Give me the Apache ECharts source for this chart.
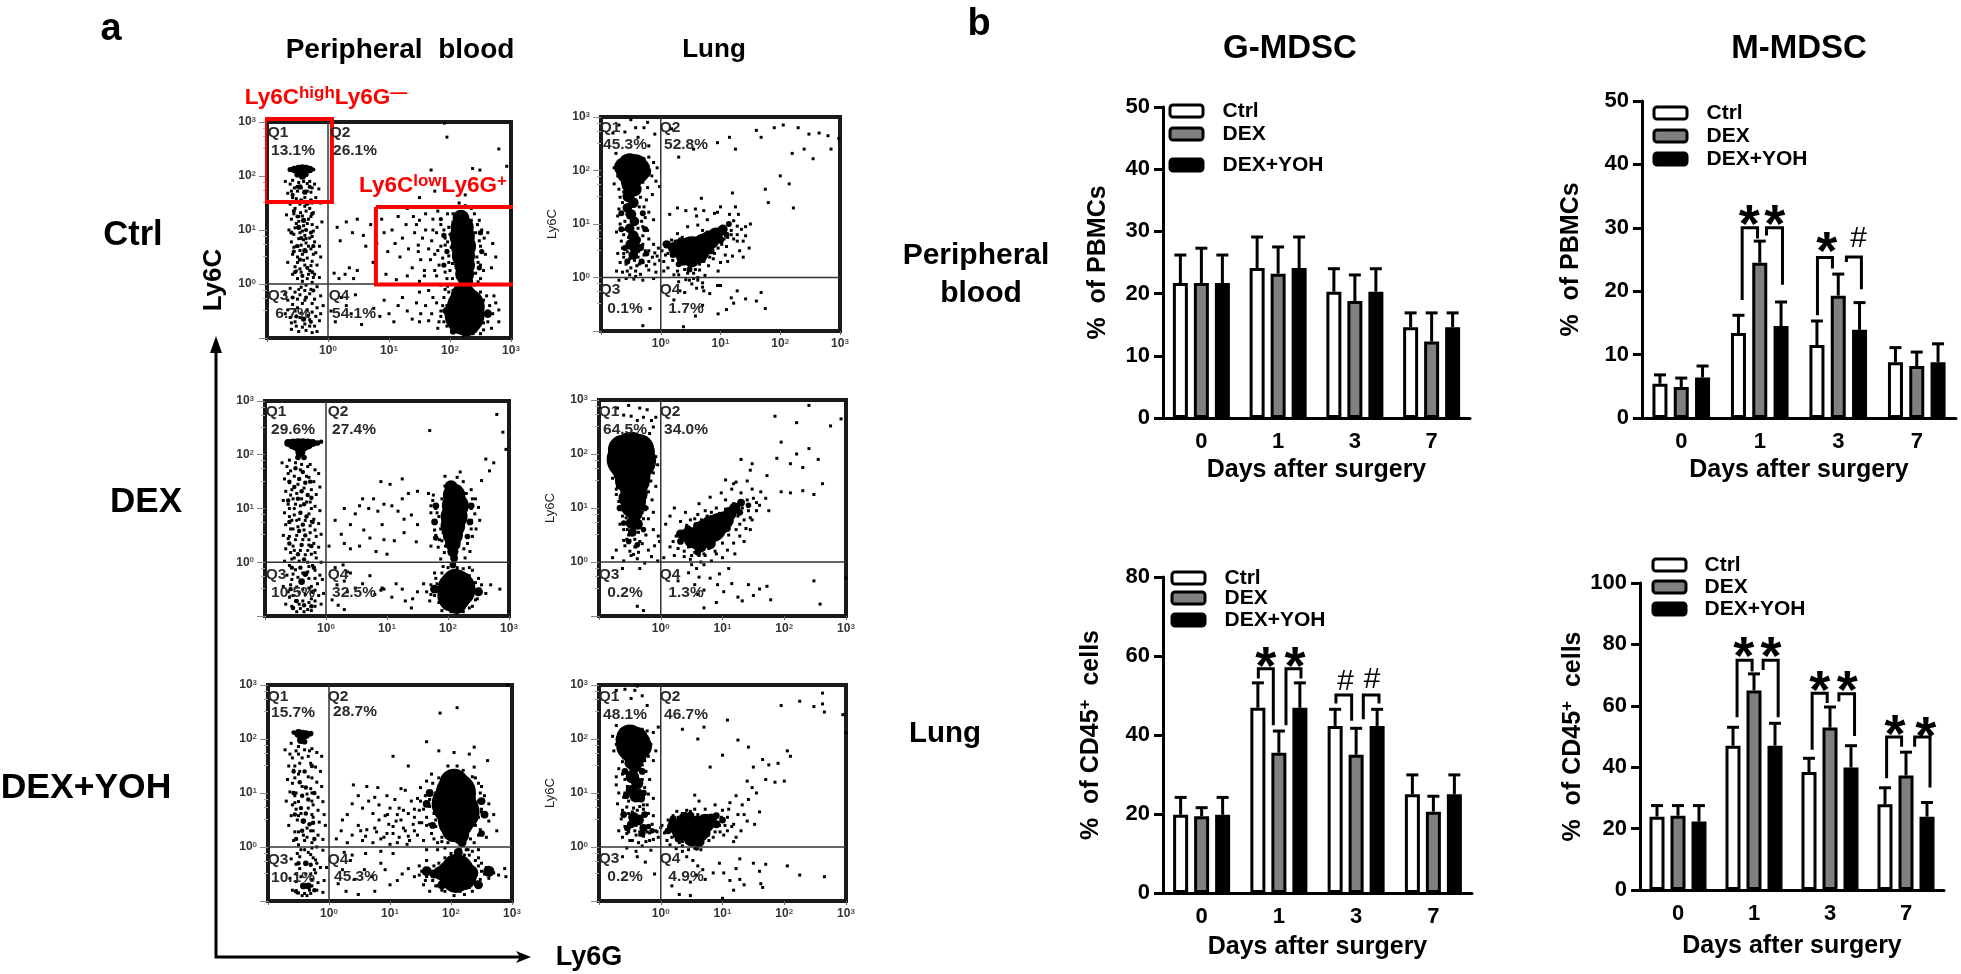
<!DOCTYPE html>
<html><head><meta charset="utf-8"><style>html,body{margin:0;background:#fff}#c{width:1961px;height:974px}</style>
<script src="https://cdn.jsdelivr.net/npm/echarts@6/dist/echarts.min.js"></script></head><body><div id="c"></div>
<script>
const FONT='"Liberation Sans"';
const days=['0','1','3','7'];
const groups=['Ctrl','DEX','DEX+YOH'];
// bar values and upper error-bar ends
const gPbmcCtrl=[21.7,24.1,20.3,14.6], gPbmcCtrlTop=[26.2,29.1,24,16.9];
const gPbmcDex=[21.7,23.2,18.8,12.3], gPbmcDexTop=[27.3,27.5,23,16.9];
const gPbmcYoh=[21.7,24.1,20.3,14.6], gPbmcYohTop=[26.2,29.1,24,16.9];
const mPbmcCtrl=[5.4,13.4,11.5,8.8], mPbmcCtrlTop=[6.8,16.2,15.3,11.1];
const mPbmcDex=[4.9,24.5,19.3,8.2], mPbmcDexTop=[6.3,27.9,22.7,10.4];
const mPbmcYoh=[6.4,14.5,13.9,8.8], mPbmcYohTop=[8.2,18.3,18.2,11.7];
const gCd45Ctrl=[19.8,46.9,42.3,25], gCd45CtrlTop=[24.2,53.2,46.5,29.9];
const gCd45Dex=[19.4,35.5,35,20.6], gCd45DexTop=[21.6,41,41.7,24.5];
const gCd45Yoh=[19.8,46.9,42.3,25], gCd45YohTop=[24.2,53.2,46.5,29.9];
const mCd45Ctrl=[23.9,47,38.4,27.9], mCd45CtrlTop=[27.5,53,42.9,33.3];
const mCd45Dex=[24.2,65,52.9,37.3], mCd45DexTop=[27.5,70.4,59.6,44.9];
const mCd45Yoh=[22.3,47,39.9,23.9], mCd45YohTop=[27.5,54.3,47,28.5];
// significance brackets, x in category index units
const mPbmcBrackets=[[[.776,18.6],[.776,30],[.972,30],[.972,28.3]],[[1.086,28.8],[1.086,30],[1.29,30],[1.29,21]],[[1.735,16.2],[1.735,25.3],[1.926,25.3],[1.926,23.6]],[[2.104,24.6],[2.104,25.4],[2.295,25.4],[2.295,20.3]]];
const mPbmcMarks=[[.866,32.2,'*'],[1.192,32.2,'*'],[1.854,27.9,'*'],[2.253,28.3,'#']];
const gCd45Brackets=[[[.734,54.3],[.734,56.8],[.928,56.8],[.928,42.5]],[[1.092,42.5],[1.092,56.8],[1.286,56.8],[1.286,54.3]],[[1.739,48],[1.739,50.1],[1.942,50.1],[1.942,43.6]],[[2.093,44],[2.093,50.1],[2.296,50.1],[2.296,48]]];
const gCd45Marks=[[.829,60,'*'],[1.208,60,'*'],[1.856,53.5,'#'],[2.201,53.9,'#']];
const mCd45Brackets=[[[.777,56.3],[.777,74.8],[.975,74.8],[.975,71.2]],[[1.12,71.7],[1.12,74.8],[1.318,74.8],[1.318,56.3]],[[1.765,45.7],[1.765,64.1],[1.963,64.1],[1.963,60.9]],[[2.117,61.4],[2.117,63.9],[2.323,63.9],[2.323,50.2]],[[2.745,36.4],[2.745,49.8],[2.942,49.8],[2.942,46.7]],[[3.114,46.7],[3.114,49.8],[3.316,49.8],[3.316,33.4]]];
const mCd45Marks=[[.865,79.6,'*'],[1.225,79.6,'*'],[1.866,68.5,'*'],[2.227,68.5,'*'],[2.855,54.1,'*'],[3.259,53.5,'*']];

// flow cytometry: read by eye, in hundredths of a decade [x,y,...]; core entries add a blob size
const pbCtrlCore=[-62,212,5,-55,212,7,-48,212,9,-42,212,10,-36,212,9,-30,212,7,-24,212,4,-50,203,6,-42,200,7,-36,203,5,-46,180,5,-38,170,5,-44,155,4,-34,150,5,-50,125,4,-40,118,5,-48,105,5,-36,100,4,-44,85,4,-50,70,4,-38,62,5,-46,45,4,-34,30,4,-42,15,4,-48,-10,3,-36,-25,4,-40,-65,5,218,122,16,220,105,22,220,88,24,222,70,24,222,52,22,224,35,20,224,18,18,226,4,14,222,-22,24,226,-42,36,224,-58,38,230,-55,28,216,-52,24,228,-75,22,
 -58,165,4,-28,155,4,-56,135,4,-26,130,4,-60,95,4,-28,95,4,-56,60,4,-24,70,4,-54,22,4,-26,22,4,-58,-25,4,-24,-12,4,-52,-60,4,-28,-70,4,-50,180,4,-30,180,4,190,90,5,195,60,5,190,35,5,250,95,5,252,60,5,248,30,5,185,120,4,195,-50,8,262,-55,8,240,-85,6,205,-88,6];
const pbCtrlDots=[-70,190,-62,185,-55,178,-30,190,-22,185,-15,176,-66,168,-58,160,-50,172,-28,170,-20,160,-12,150,-62,148,-54,140,-30,140,-24,132,-45,132,-68,128,-60,120,-52,112,-42,126,-32,120,-26,110,-18,105,-10,115,-64,100,-56,92,-46,95,-38,90,-30,85,-22,78,-14,70,-60,78,-52,70,-44,72,-36,76,-28,65,-20,58,-12,50,-58,55,-50,50,-42,55,-34,48,-26,42,-18,35,-66,40,-54,32,-46,28,-38,35,-30,25,-22,18,-14,12,-58,18,-50,10,-42,5,-34,10,-26,3,-18,-5,-62,-8,-54,-15,-46,-20,-38,-12,-30,-18,-22,-28,-12,-22,-66,-30,-58,-38,-50,-44,-42,-36,-34,-48,-26,-52,-18,-44,-8,-40,-70,-55,-62,-62,-54,-70,-46,-62,-38,-74,-30,-66,-22,-78,-14,-68,-60,-84,-48,-88,-36,-86,-26,-90,160,130,172,120,180,135,185,110,190,100,178,95,192,85,170,80,185,70,195,62,175,55,188,48,198,40,182,35,192,22,178,15,195,10,185,-2,205,130,240,130,248,118,252,100,256,85,250,70,258,55,246,40,255,25,250,10,262,95,270,75,275,50,268,30,150,118,140,125,130,140,215,150,225,145,200,142,235,140,210,-5,240,-2,250,-15,255,-30,265,-40,270,-55,262,-70,255,-85,238,-92,205,-85,190,-70,185,-50,178,-35,190,-25,198,-15,195,-40,200,-60,275,-35,280,-70,170,-55,160,-40,165,-68,15,105,20,80,30,115,40,95,48,120,58,90,62,70,70,110,74,40,80,75,88,120,92,95,98,60,105,100,110,75,115,125,118,50,122,85,128,110,132,65,138,30,142,95,148,72,152,45,158,15,10,20,18,10,28,18,35,30,42,10,48,25,78,12,95,18,112,8,130,15,150,5,5,-50,12,-70,22,-25,30,-40,38,-55,45,-20,55,-75,75,-45,85,-60,92,-30,100,-55,108,-70,115,-40,122,-25,130,-50,138,-65,145,-35,152,-55,191,298,195,272,280,250,293,218,169,211,237,214,249,211,150,160,175,172,225,165,
 -58,192,-48,188,-40,190,-34,186,-26,178,-60,172,-44,178,-34,172,-38,160,-52,158,-26,150,-46,148,-38,144,-56,130,-36,135,-28,125,-48,125,-40,108,-48,116,-34,112,-24,98,-54,104,-42,98,-36,84,-48,84,-26,88,-56,68,-40,82,-32,70,-46,62,-24,55,-36,60,-50,40,-40,44,-28,34,-44,22,-32,18,-52,24,-24,12,-36,-2,-44,-6,-28,-10,-50,-28,-38,-30,-26,-36,-44,-54,-32,-58,-54,-50,-20,-60,-42,-80,-30,-78,-52,-78,-60,-72,-18,-88,-66,-48,-12,-55,-70,-18,196,130,205,115,198,105,200,92,196,78,202,68,192,72,198,52,204,38,200,25,204,10,196,-4,245,110,242,95,248,80,240,68,244,50,250,35,242,20,246,4,235,118,232,100,172,100,165,65,180,62,175,25,160,100,155,85,148,60,168,45,145,110,158,25,205,-12,215,-8,232,-8,260,-22,272,-22,280,-48,268,-82,250,-92,222,-96,195,-78,180,-82,172,-25,165,-12,150,-15,150,-70,262,-50,255,-72,190,-50,185,-60,188,-40,182,-70,192,-10];
const pbDexCore=[-62,222,7,-54,220,10,-46,218,12,-38,218,12,-30,220,10,-22,222,7,-14,222,5,-8,224,4,-42,205,9,-46,195,5,-36,195,5,-50,175,4,-38,168,4,-44,155,4,-34,148,4,-52,140,4,-40,132,4,-30,125,4,-46,118,4,-36,108,4,-52,100,3,-42,92,4,-32,85,4,-48,78,3,-38,70,4,-44,58,4,-34,50,4,-50,42,3,-40,32,4,-30,22,3,-46,15,4,-36,5,4,-42,-10,4,-34,-22,5,-40,-36,6,-28,-30,3,-48,-72,4,-36,-80,4,205,140,12,210,125,20,212,105,24,210,85,24,208,68,22,208,50,18,208,35,14,208,20,10,210,8,7,208,-5,6,212,-35,22,214,-50,34,210,-62,30,202,-48,18,222,-52,20,214,-78,18,
 -60,150,4,-26,150,4,-62,115,4,-24,120,4,-60,75,4,-22,75,4,-60,35,4,-24,30,4,-56,-10,4,-20,-10,4,-58,-50,4,-22,-55,4,-54,-85,4,-24,-82,4,180,105,6,178,75,6,238,105,6,236,75,6,180,45,5,232,48,5,178,-50,8,250,-55,8,225,-80,6,195,-75,6];
const pbDexDots=[-72,185,-64,178,-58,170,-26,182,-18,172,-12,165,-68,155,-60,148,-28,158,-20,150,-10,140,-66,132,-58,125,-24,135,-16,126,-70,115,-62,108,-54,118,-26,112,-18,104,-10,96,-68,92,-60,85,-52,88,-28,90,-20,80,-12,72,-66,70,-58,62,-26,68,-18,60,-8,52,-70,50,-62,44,-54,30,-28,42,-20,35,-12,28,-66,25,-58,18,-52,8,-24,15,-16,8,-8,0,-68,2,-60,-6,-50,-14,-28,-8,-18,-15,-10,-24,-64,-24,-56,-32,-24,-45,-14,-40,-6,-32,-70,-45,-62,-55,-54,-62,-44,-56,-34,-60,-24,-68,-12,-62,-4,-58,-66,-78,-56,-82,-42,-86,-30,-88,-18,-82,-8,-78,168,128,175,115,180,100,172,92,185,85,178,72,188,62,180,50,190,40,184,28,194,18,188,6,238,135,245,118,250,102,244,90,252,78,246,62,240,48,232,35,236,20,228,8,195,142,225,150,215,158,200,-10,225,-12,190,-20,180,-30,172,-42,165,-55,178,-62,185,-75,195,-85,170,-72,160,-40,150,-55,142,-68,235,-25,245,-38,252,-50,262,-58,248,-68,240,-82,225,-92,205,-92,190,-90,270,-42,285,-50,90,-52,95,-50,92,-48,40,-20,30,-35,18,-42,35,-55,48,-48,60,-40,72,-25,80,-60,108,-65,115,-40,125,-50,130,-72,140,-85,20,-80,30,-88,10,-70,15,-10,28,-5,35,-18,40,25,30,35,55,30,62,60,72,45,82,20,92,70,100,15,48,90,55,105,60,118,70,100,78,118,85,95,95,108,108,105,118,95,128,80,140,88,150,70,128,55,148,38,112,40,95,42,125,118,135,128,5,30,25,52,15,78,30,100,40,70,90,150,105,145,125,155,150,132,280,275,290,242,295,210,268,170,275,185,262,192,195,160,170,245,255,152,220,168,
 -60,190,-50,185,-40,182,-30,178,-62,165,-52,160,-42,172,-32,160,-46,145,-36,138,-56,135,-48,128,-40,118,-32,112,-60,100,-50,108,-42,105,-24,100,-56,78,-44,80,-34,78,-24,76,-54,62,-46,66,-36,60,-26,55,-16,48,-60,48,-48,50,-38,42,-28,32,-52,22,-42,22,-34,14,-18,18,-56,6,-44,2,-30,0,-22,-6,-54,-22,-46,-28,-38,-20,-30,-18,-18,-30,-58,-42,-48,-46,-38,-50,-28,-48,-18,-52,-60,-65,-50,-72,-44,-78,-38,-72,-28,-75,-18,-72,-48,-92,-36,-92,-24,-90,176,125,172,105,190,118,182,92,192,75,178,60,192,55,186,42,172,30,196,30,240,118,238,100,238,78,238,62,230,48,226,25,196,130,230,128,192,-8,215,-10,235,-10,178,-20,175,-50,182,-40,172,-60,235,-85,245,-70,250,-30,255,-42,190,-60,195,-75,185,-55,240,-15];
const pbYohCore=[-58,212,4,-50,210,8,-44,208,9,-38,208,8,-30,210,5,-46,198,7,-40,195,5,-48,155,3,-40,140,4,-48,120,4,-38,110,4,-44,95,4,-34,88,4,-46,72,4,-38,62,4,-42,48,5,-32,42,4,-44,30,4,-36,18,3,-40,-5,3,-38,-30,5,-30,-33,4,-42,-72,6,-34,-72,6,196,125,14,205,118,26,208,100,36,205,80,40,212,65,38,208,48,32,205,32,22,215,22,16,218,8,8,212,-10,8,205,-30,16,210,-45,30,195,-48,20,208,-58,26,220,-55,24,182,-48,12,232,-48,14,172,-50,8,
 -58,140,4,-28,150,4,-58,100,4,-24,100,4,-56,60,4,-26,45,4,-54,15,4,-24,15,4,-50,-30,4,-20,-30,3,-54,-82,4,-24,-80,4,165,100,7,160,80,7,250,85,7,255,60,7,170,40,6,250,25,6,160,-45,9,262,-45,10,245,-70,8,185,-70,8];
const pbYohDots=[-72,180,-64,172,-54,178,-28,182,-20,175,-12,168,-66,150,-58,142,-30,155,-22,148,-14,140,-68,125,-60,118,-28,128,-20,120,-12,112,-64,102,-56,95,-28,100,-18,92,-10,84,-70,85,-60,78,-54,70,-26,78,-18,68,-8,60,-62,58,-52,50,-26,55,-16,46,-6,40,-66,40,-56,28,-26,30,-18,22,-10,14,-58,12,-50,4,-28,8,-20,0,-10,-6,-48,-18,-30,-14,-22,-24,-62,-22,-54,-32,-48,-40,-24,-42,-14,-38,-4,-38,-64,-58,-54,-64,-28,-60,-18,-66,-8,-62,-60,-80,-50,-85,-30,-86,-20,-80,-10,-84,150,110,160,122,168,135,175,100,165,88,178,78,172,62,182,50,175,38,168,25,185,18,178,8,190,-2,160,-5,240,128,250,112,255,95,262,80,250,65,262,48,248,32,258,18,238,8,245,-5,235,-8,270,60,275,30,195,150,220,142,238,148,210,150,130,-40,140,-55,148,-35,155,-70,160,-25,165,-82,178,-72,180,-30,190,-20,190,-82,205,-90,222,-88,235,-82,245,-72,250,-30,258,-38,262,-58,270,-48,278,-52,288,-40,290,-55,245,-20,230,-15,225,-5,120,-50,112,-62,100,-70,92,-42,85,-30,70,-55,58,-42,42,-60,35,-25,22,-42,15,-68,28,-82,48,-88,75,-82,25,-10,38,-15,60,-12,85,-8,105,-12,12,15,20,30,30,8,38,22,48,40,55,12,62,32,72,8,78,28,82,50,90,18,98,42,105,25,112,8,118,50,125,30,132,12,138,42,145,22,122,68,112,60,100,72,92,58,82,78,72,62,65,85,55,72,48,95,38,80,30,60,22,50,95,95,108,88,125,105,135,85,148,68,152,45,118,108,80,110,62,112,40,115,160,40,155,12,100,5,290,330,293,300,210,258,182,248,160,195,130,150,180,178,238,185,105,168,205,175,230,172,260,160,
 -62,192,-50,186,-40,180,-32,178,-60,165,-50,172,-44,165,-34,168,-56,150,-48,140,-34,130,-56,128,-50,135,-44,112,-30,108,-54,100,-36,98,-50,84,-28,85,-56,82,-46,62,-34,72,-28,60,-50,58,-36,35,-50,28,-42,22,-30,30,-28,-2,-40,12,-34,-10,-52,-12,-46,-5,-26,-20,-54,-50,-46,-55,-38,-50,-30,-50,-22,-48,-52,-85,-40,-86,-44,-90,-36,-90,-32,-80,-28,-72,170,118,180,128,185,110,172,85,165,75,182,60,175,50,185,35,172,15,190,25,195,8,235,130,245,118,248,100,245,85,250,70,245,55,240,40,245,22,232,15,228,-5,185,10,178,-5,200,-12,222,-15,215,-5,158,95,150,85,155,70,145,90,140,70,160,55,148,45,165,42,152,-45,148,-52,160,-55,158,-62,165,-42,170,-62,172,-35,175,-72,178,-55,185,-80,195,-72,205,-78,215,-82,230,-75,240,-65,248,-60,250,-45,255,-50,245,-35,240,-25,95,25,85,15,75,35,60,20,52,30,105,38,115,18,122,35,130,20,140,30,128,5,110,48,96,60,130,62,140,55,115,72,75,92];
const luCtrlCore=[-62,206,16,-52,210,20,-42,208,20,-34,204,16,-58,195,16,-48,192,22,-38,196,18,-28,198,12,-50,175,16,-44,165,12,-54,152,10,-46,140,9,-56,130,8,-50,118,9,-44,105,8,-52,92,8,-46,78,9,-40,70,7,-50,62,9,-42,55,10,-34,56,6,-46,42,8,10,62,7,22,55,10,34,55,16,44,52,20,52,50,24,62,50,20,72,62,18,82,70,16,92,80,12,104,90,8,114,100,5,122,106,3,40,38,14,52,32,12,66,38,10,
 -66,120,5,-30,120,5,-66,90,5,-26,90,5,-60,55,5,-24,45,5,-56,30,5,-32,30,5,20,42,5,30,65,6,45,68,6,60,70,6,70,35,6,84,50,6,100,70,6,30,25,5,48,15,5,110,80,5];
const luCtrlDots=[-80,270,-70,285,-60,272,-50,295,-42,280,-38,262,-28,280,-22,290,-10,268,-20,246,-75,232,-70,218,-78,205,-20,225,-12,215,-6,205,-15,190,-8,180,-2,170,-78,175,-70,165,-68,150,-22,168,-14,155,-24,145,-70,128,-72,115,-28,132,-20,122,-12,108,-26,112,-68,100,-74,85,-30,95,-22,88,-62,80,-66,68,-30,78,-20,72,-12,62,-64,55,-72,45,-62,38,-28,42,-20,50,-10,46,-4,55,-68,28,-58,25,-50,18,-40,22,-30,28,-20,30,-10,25,-2,32,-74,12,-64,10,-52,5,-42,12,-34,6,-20,14,-8,10,-70,-5,-58,-2,-45,-3,-30,-5,-12,-2,5,30,12,18,20,32,28,12,36,25,30,5,45,8,55,-2,65,14,74,4,80,22,88,35,96,12,100,28,108,42,5,12,12,45,18,70,28,82,36,75,45,95,52,72,62,98,70,88,78,108,88,62,98,92,106,72,118,80,128,68,132,50,120,40,112,30,128,96,142,78,148,55,138,38,15,118,28,130,42,125,58,128,60,115,72,125,90,120,100,132,115,118,125,132,130,118,150,100,100,-15,72,-25,82,-30,60,-20,40,-28,118,-38,122,-48,128,-25,168,-28,175,-58,110,-60,96,-68,58,-72,38,-92,70,-18,-18,-58,-30,-90,70,-52,95,-15,142,-40,160,-44,32,-25,22,-42,95,252,115,262,168,262,160,275,190,280,205,285,230,280,248,268,265,270,280,265,298,260,220,232,240,240,255,222,285,240,125,240,55,240,18,278,30,225,200,190,215,175,222,130,180,140,175,165,120,158,95,122,68,148,
 -72,190,-60,225,-50,228,-40,226,-28,222,-64,178,-30,178,-36,168,-62,160,-34,150,-64,140,-56,118,-36,132,-60,105,-32,105,-38,92,-60,90,-54,75,-30,62,-62,45,-56,48,-38,38,-26,50,-52,35,-44,32,-36,25,-56,12,-42,2,-24,22,-14,38,-6,40,2,50,8,42,14,60,18,42,24,68,26,40,32,72,30,28,38,68,42,70,40,15,50,68,48,18,58,70,58,15,65,25,68,72,72,30,76,40,78,85,82,38,84,55,90,45,92,68,96,55,98,75,102,62,105,82,110,58,112,75,118,88,122,72,128,80,135,90,138,68,142,95,55,8,62,0,48,-5,42,-4,30,-8,22,5,62,-5,70,-10,52,-12];
const luDexCore=[-62,208,26,-48,210,30,-36,208,28,-26,205,18,-68,195,16,-55,190,36,-42,188,38,-30,188,22,-50,168,30,-42,160,28,-56,150,20,-34,148,18,-46,135,22,-52,118,18,-42,112,20,-34,125,14,-50,98,14,-42,90,14,-48,72,10,-38,70,10,-46,55,8,32,52,8,42,50,12,52,42,16,62,45,22,74,55,24,84,62,24,94,70,20,104,78,16,112,90,12,120,100,10,130,110,7,64,30,12,80,34,10,
 -66,100,6,-26,100,6,-60,72,5,-28,60,5,-52,38,5,-38,32,5,32,38,6,44,62,6,58,68,6,78,38,7,92,50,7,108,62,6,128,92,6,142,105,5,60,18,6];
const luDexDots=[-70,285,-60,272,-52,290,-48,270,-38,262,-34,285,-28,268,-22,282,-8,268,-12,250,-18,238,-82,200,-78,185,-75,170,-78,155,-70,140,-72,125,-68,112,-66,98,-62,85,-66,70,-60,60,-55,42,-8,195,-5,180,-12,165,-16,150,-8,140,-20,130,-14,115,-22,100,-12,92,-20,80,-28,62,-24,50,-12,60,-4,48,-58,30,-50,20,-40,28,-30,34,-20,22,-10,30,-2,38,-72,22,-78,8,-60,2,-48,12,-38,6,-26,-2,-15,10,-5,2,-62,-12,-34,-12,5,8,15,28,22,12,30,40,38,20,48,5,55,18,65,0,72,12,82,2,90,15,100,8,108,22,118,35,128,48,138,62,148,78,8,70,15,85,22,100,32,75,40,92,48,62,55,80,62,108,72,95,80,120,90,100,98,128,105,115,115,135,122,148,130,128,140,150,148,135,155,110,162,130,170,118,175,95,145,60,135,38,120,15,110,-12,95,-22,80,-30,62,-28,45,-20,28,-35,92,-42,102,-55,115,-40,125,-65,142,-42,150,-62,160,-50,172,-45,178,-70,132,-72,90,-75,70,-85,55,-42,70,-52,60,-60,248,-35,258,-78,300,-30,188,192,195,222,210,182,220,200,230,175,240,210,255,190,210,128,230,132,248,125,262,145,195,130,172,160,145,170,118,145,105,152,148,182,130,190,185,270,220,258,240,290,275,252,292,265,-38,-82,-15,262,-28,-90,
 -78,215,-70,225,-60,230,-48,232,-36,230,-24,226,-16,218,-72,178,-66,162,-72,135,-60,118,-28,170,-22,160,-24,135,-26,118,-60,95,-56,82,-30,92,-28,80,-36,55,-54,60,-60,40,-50,40,-42,42,-34,38,-42,28,-52,50,-44,14,-36,18,20,38,25,48,28,25,32,38,36,55,38,10,42,68,45,28,48,78,50,12,55,65,58,28,60,88,62,12,66,78,70,15,72,30,75,85,78,25,82,92,85,38,88,20,92,45,95,90,100,35,102,62,105,98,110,50,112,72,118,108,122,60,125,85,128,70,132,100,135,78,140,115,142,95,145,82,150,118,155,95,160,105,50,-5,58,-12,70,-5];
const luYohCore=[-58,198,14,-50,202,20,-40,200,18,-30,196,12,-46,188,24,-34,186,18,-42,172,18,-50,155,8,-42,150,10,-46,130,10,-38,118,9,-48,105,8,-40,95,10,-32,90,6,-44,55,8,-36,50,8,-28,35,6,-48,42,6,-20,38,4,20,38,9,32,32,14,42,36,20,52,32,20,62,26,14,72,44,14,82,52,8,90,58,5,50,16,12,62,10,8,
 -58,140,5,-30,140,5,-56,95,5,-28,100,5,-60,60,5,-26,60,5,-54,35,5,-30,25,5,-14,30,4,12,30,5,20,52,5,36,55,6,48,58,6,62,50,6,74,25,6,90,42,6,100,50,5,28,15,5,45,12,6,58,-2,4];
const luYohDots=[-72,290,-58,292,-48,275,-42,290,-30,280,-38,298,-22,262,-72,225,-62,218,-48,216,-30,218,-22,215,-12,212,-4,222,-78,205,-72,190,-76,178,-16,190,-8,178,-20,168,-12,160,-68,145,-72,130,-62,135,-24,140,-18,125,-26,110,-72,115,-68,100,-60,92,-20,98,-12,90,-22,78,-70,80,-62,68,-55,74,-28,70,-20,62,-12,58,-64,52,-58,38,-55,25,-40,22,-28,20,-18,26,-8,30,0,36,-68,30,-62,18,-50,12,-36,8,-24,10,-12,14,-4,18,-55,-2,-40,-8,-30,2,-16,-6,-62,-18,-38,-18,8,28,10,12,15,48,22,20,28,55,35,10,40,62,48,50,58,55,65,45,70,20,78,12,88,28,95,40,102,22,108,55,115,38,122,18,100,68,88,78,72,70,62,85,55,96,112,82,122,95,132,78,142,88,148,110,155,100,160,65,152,42,140,48,130,30,118,10,35,-8,42,-18,52,-25,60,-35,68,-42,58,-52,48,-65,72,-60,85,-48,95,-30,102,-48,112,-62,122,-40,128,-22,128,-60,135,-70,150,-30,160,-45,165,-75,30,-88,48,-90,18,-72,100,-95,118,-80,-10,-50,-25,-28,162,-68,170,-32,205,-35,225,-52,265,-55,140,122,150,148,165,162,175,152,190,155,205,178,210,168,170,125,185,120,200,122,80,148,100,170,60,200,125,198,142,185,70,222,108,235,35,218,195,262,225,270,248,260,262,285,262,265,265,250,295,245,302,250,300,212,
 -66,180,-60,165,-28,175,-26,160,-62,158,-30,152,-58,125,-54,112,-30,125,-34,105,-58,100,-52,85,-34,75,-28,78,-44,72,-38,68,-52,62,-46,65,-30,58,-52,28,-42,30,-34,28,-22,28,-14,42,-6,28,-46,12,-34,22,-18,12,-40,40,2,40,6,26,12,50,14,32,18,18,20,58,25,25,26,66,30,8,35,62,38,20,42,68,45,8,48,66,52,8,55,70,58,18,60,60,65,30,68,8,72,28,76,58,78,30,80,42,85,48,85,18,90,40,96,28,98,55,104,40,108,30,110,70,118,42,125,60,135,60,15,4,25,-3,35,2,45,-5,55,-2,65,-5];

const pairs=(a)=>{const o=[];for(let i=0;i<a.length;i+=2)o.push([10**(a[i]/100),10**(a[i+1]/100)]);return o};
const triples=(a,s)=>{const o=[];for(let i=0;i<a.length;i+=3)o.push([10**(a[i]/100),10**(a[i+1]/100),a[i+2]*s]);return o};

// Gates (raw axis values)
const gateHigh=[[.093,1140],[1.16,1140],[1.16,33],[.093,33],[.093,1140]];
const gateLow=[[6.1,26.8],[1200,26.8],[1200,.98],[6.1,.98],[6.1,26.8]];

const barCharts=[
 {left:1163,top:107,width:307,height:311,max:50,interval:10,name:'%  of PBMCs',nameGap:52,spacing:21,xGap:40,
  vals:[gPbmcCtrl,gPbmcDex,gPbmcYoh],tops:[gPbmcCtrlTop,gPbmcDexTop,gPbmcYohTop],brackets:[],marks:[],
  legX:1168.5,legText:1221,legY:[111,134,165]},
 {left:1642,top:101,width:314,height:317,max:50,interval:10,name:'%  of PBMCs',nameGap:58,spacing:21.3,xGap:40,
  vals:[mPbmcCtrl,mPbmcDex,mPbmcYoh],tops:[mPbmcCtrlTop,mPbmcDexTop,mPbmcYohTop],brackets:mPbmcBrackets,marks:mPbmcMarks,
  legX:1652.5,legText:1705,legY:[113,136,159]},
 {left:1163,top:577,width:309,height:316,max:80,interval:20,name:'%  of CD45{s|+}  cells',nameGap:58,spacing:21,xGap:42,
  vals:[gCd45Ctrl,gCd45Dex,gCd45Yoh],tops:[gCd45CtrlTop,gCd45DexTop,gCd45YohTop],brackets:gCd45Brackets,marks:gCd45Marks,
  legX:1170.5,legText:1223,legY:[578,598,620]},
 {left:1640,top:583,width:304,height:307,max:100,interval:20,name:'%  of CD45{s|+}  cells',nameGap:53,spacing:21,xGap:44,
  vals:[mCd45Ctrl,mCd45Dex,mCd45Yoh],tops:[mCd45CtrlTop,mCd45DexTop,mCd45YohTop],brackets:mCd45Brackets,marks:mCd45Marks,
  legX:1651.5,legText:1703,legY:[565,587,609]}
];
const flowPanels=[
 {l:267,r:511,t:122,b:338,dots:pbCtrlDots,core:pbCtrlCore,gates:true,s:1.05},
 {l:601,r:840,t:117,b:331,dots:luCtrlDots,core:luCtrlCore,label:true,s:1.2},
 {l:265,r:509,t:401,b:616,dots:pbDexDots,core:pbDexCore,s:1.12},
 {l:599,r:846,t:400,b:616,dots:luDexDots,core:luDexCore,label:true,s:1.12},
 {l:268,r:512,t:685,b:901,dots:pbYohDots,core:pbYohCore,s:1.12},
 {l:599,r:846,t:685,b:901,dots:luYohDots,core:luYohCore,label:true,s:1.35}
];
const quadText=[
 [278,133,'Q1'],[293,151,'13.1%'],[340,133,'Q2'],[355,151,'26.1%'],[278,296,'Q3'],[293,314,'6.7%'],[339,296,'Q4'],[354,314,'54.1%'],
 [610,128,'Q1'],[625,145,'45.3%'],[670,128,'Q2'],[686,145,'52.8%'],[610,290,'Q3'],[625,309,'0.1%'],[670,290,'Q4'],[686,309,'1.7%'],
 [276,412,'Q1'],[293,430,'29.6%'],[338,412,'Q2'],[354,430,'27.4%'],[276,575,'Q3'],[293,593,'10.5%'],[338,575,'Q4'],[354,593,'32.5%'],
 [609,412,'Q1'],[625,430,'64.5%'],[670,412,'Q2'],[686,430,'34.0%'],[609,575,'Q3'],[625,593,'0.2%'],[670,575,'Q4'],[686,593,'1.3%'],
 [278,697,'Q1'],[293,713,'15.7%'],[338,697,'Q2'],[355,712,'28.7%'],[278,860,'Q3'],[293,878,'10.1%'],[338,860,'Q4'],[356,877,'45.3%'],
 [609,697,'Q1'],[625,715,'48.1%'],[670,697,'Q2'],[686,715,'46.7%'],[609,859,'Q3'],[625,877,'0.2%'],[670,859,'Q4'],[686,877,'4.9%']
];
const bigText=[
 [111,30,'a',38],[979,25,'b',38],[400,50,'Peripheral  blood',28],[714,50,'Lung',26],
 [133,235,'Ctrl',34.5],[146,502,'DEX',35],[86,788,'DEX+YOH',35.5],
 [976,256,'Peripheral',30],[981,294,'blood',30],[945,734,'Lung',29.5],[589,958,'Ly6G',27],
 [1290,49,'G-MDSC',33],[1799,49,'M-MDSC',33]
];
const FILL=['#fff','#808080','#000'];
const grid=[],xAxis=[],yAxis=[],series=[],legend=[],graphic=[];

barCharts.forEach((c,i)=>{
 grid.push({left:c.left,top:c.top,width:c.width,height:c.height});
 xAxis.push({type:'category',gridIndex:i,data:days,name:'Days after surgery',nameLocation:'middle',nameGap:c.xGap,
  nameTextStyle:{fontFamily:FONT,fontWeight:'bold',fontSize:25,color:'#000'},
  axisLine:{lineStyle:{color:'#000',width:3}},axisTick:{alignWithLabel:true,length:9,lineStyle:{color:'#000',width:3}},
  axisLabel:{fontFamily:FONT,fontWeight:'bold',fontSize:22,color:'#000',margin:13},splitLine:{show:false}});
 xAxis.push({type:'value',gridIndex:i,min:-.5,max:3.5,show:false});
 yAxis.push({type:'value',gridIndex:i,min:0,max:c.max,interval:c.interval,name:c.name,nameLocation:'middle',nameGap:c.nameGap,
  nameTextStyle:{fontFamily:FONT,fontWeight:'bold',fontSize:25,color:'#000',rich:{s:{fontFamily:FONT,fontWeight:'bold',fontSize:17,color:'#000',verticalAlign:'top',lineHeight:28}}},
  axisLine:{show:true,onZero:false,lineStyle:{color:'#000',width:3}},axisTick:{show:true,length:9,lineStyle:{color:'#000',width:3}},
  axisLabel:{fontFamily:FONT,fontWeight:'bold',fontSize:22,color:'#000',margin:13},splitLine:{show:false}});
 groups.forEach((g,k)=>{
  series.push({type:'bar',name:g,xAxisIndex:i*2,yAxisIndex:i,data:c.vals[k],barWidth:15,barGap:((c.spacing-15)/15*100)+'%',z:3,
   itemStyle:{color:FILL[k],borderColor:'#000',borderWidth:3}});
  const off=(k-1)*c.spacing;
  series.push({type:'custom',name:'err'+k,xAxisIndex:i*2,yAxisIndex:i,clip:false,z:2,
   data:days.map((d,n)=>[n,c.tops[k][n],c.vals[k][n]]),encode:{x:0,y:[1,2]},
   renderItem:(p,api)=>{const a=api.coord([api.value(0),api.value(2)]),b=api.coord([api.value(0),api.value(1)]);const x=a[0]+off;
    const st={stroke:'#000',lineWidth:3,fill:null};
    return {type:'group',children:[{type:'line',shape:{x1:x,y1:a[1],x2:x,y2:b[1]},style:st},{type:'line',shape:{x1:x-6,y1:b[1],x2:x+6,y2:b[1]},style:st}]}}});
  legend.push({data:[g],left:c.legX,top:c.legY[k]-12,padding:0,icon:'roundRect',itemWidth:33,itemHeight:12,selectedMode:false,
   itemStyle:{color:FILL[k],borderColor:'#000',borderWidth:3},
   textStyle:{fontFamily:FONT,fontWeight:'bold',fontSize:21,color:'#000',lineHeight:24,padding:[0,0,0,c.legText-c.legX-38]}});
 });
 c.brackets.forEach(b=>series.push({type:'line',xAxisIndex:i*2+1,yAxisIndex:i,data:b,symbol:'none',clip:false,z:5,silent:true,
  lineStyle:{color:'#000',width:3,join:'miter'}}));
 if(c.marks.length)series.push({type:'scatter',xAxisIndex:i*2+1,yAxisIndex:i,symbolSize:1,clip:false,z:6,silent:true,
  itemStyle:{color:'transparent',opacity:1},
  data:c.marks.map(m=>({value:[m[0],m[1]],label:m[2]==='#'
    ?{formatter:'#',fontSize:30,fontStyle:'italic',fontWeight:'normal',offset:[0,0]}
    :{formatter:'*',fontSize:54,fontWeight:'bold',offset:[0,13]}})),
  label:{show:true,position:'inside',color:'#000',fontFamily:FONT}});
});

const n0=barCharts.length;
flowPanels.forEach((f,j)=>{
 const g=n0+j,xi=n0*2+j,yi=n0+j;
 grid.push({left:f.l,top:f.t,width:f.r-f.l,height:f.b-f.t,show:true,borderColor:'#1a1a1a',borderWidth:4,backgroundColor:'transparent'});
 const lab={fontFamily:FONT,fontSize:12,color:'#333',fontWeight:'bold',
  formatter:v=>{const e=Math.round(Math.log10(v));return e<0?'':'10{s|'+e+'}'},rich:{s:{fontSize:8,color:'#555',verticalAlign:'top',lineHeight:12,fontFamily:FONT}}};
 xAxis.push({type:'log',logBase:10,gridIndex:g,min:.1,max:1000,splitLine:{show:false},
  axisLine:{show:false},axisTick:{show:true,length:4,lineStyle:{color:'#666',width:1}},minorTick:{show:false},axisLabel:Object.assign({margin:7},lab)});
 yAxis.push({type:'log',logBase:10,gridIndex:g,min:.1,max:1000,splitLine:{show:false},
  name:f.label?'Ly6C':'',nameLocation:'middle',nameGap:42,nameTextStyle:{fontFamily:FONT,fontSize:13,color:'#222'},
  axisLine:{show:false},axisTick:{show:true,length:8,lineStyle:{color:'#888',width:1}},minorTick:{show:true,length:4,splitNumber:4,lineStyle:{color:'#aaa'}},axisLabel:Object.assign({margin:11},lab)});
 series.push({type:'scatter',name:'dots',xAxisIndex:xi,yAxisIndex:yi,data:pairs(f.dots),symbol:'rect',symbolSize:3,silent:true,itemStyle:{color:'#000',opacity:1},z:3});
 series.push({type:'scatter',name:'core',xAxisIndex:xi,yAxisIndex:yi,data:triples(f.core,f.s),symbolSize:v=>v[2],silent:true,itemStyle:{color:'#000',opacity:1},z:3});
 series.push({type:'line',xAxisIndex:xi,yAxisIndex:yi,data:[[1,.1],[1,1000]],symbol:'none',silent:true,lineStyle:{color:'#333',width:1.5},z:4});
 series.push({type:'line',xAxisIndex:xi,yAxisIndex:yi,data:[[.1,1],[1000,1]],symbol:'none',silent:true,lineStyle:{color:'#333',width:1.5},z:4});
 if(f.gates)[gateHigh,gateLow].forEach(d=>series.push({type:'line',xAxisIndex:xi,yAxisIndex:yi,data:d,symbol:'none',silent:true,clip:false,
  lineStyle:{color:'#f00',width:4,join:'miter'},z:7}));
});

const txt=(x,y,text,font,fill,extra)=>Object.assign({type:'text',x,y,z:20,silent:true,style:Object.assign({text,font,fill,align:'center',verticalAlign:'middle'},extra&&extra.style||{})},extra&&extra.el||{});
bigText.forEach(([x,y,t,s])=>graphic.push(txt(x,y,t,`bold ${s}px ${FONT}`,'#000')));
quadText.forEach(([x,y,t])=>graphic.push(txt(x,y,t,`bold 15.5px ${FONT}`,'#2a2a2a')));
graphic.push(txt(214,280,'Ly6C',`bold 26px ${FONT}`,'#000',{el:{rotation:Math.PI/2}}));
const red={rich:{m:{fontFamily:FONT,fontWeight:'bold',fontSize:22.5,color:'#f00',lineHeight:26},s:{fontFamily:FONT,fontWeight:'bold',fontSize:17,color:'#f00',verticalAlign:'top',lineHeight:26}}};
graphic.push(txt(326,98,'{m|Ly6C}{s|high}{m|Ly6G}{s|\u2014}',`bold 22.5px ${FONT}`,'#f00',{style:red}));
graphic.push(txt(433,186,'{m|Ly6C}{s|low}{m|Ly6G}{s|+}',`bold 22.5px ${FONT}`,'#f00',{style:red}));
// big axes arrows
const axisCol='#000';
graphic.push({type:'polyline',z:15,silent:true,shape:{points:[[216,350],[216,957],[520,957]]},style:{stroke:axisCol,lineWidth:3,fill:null}});
graphic.push({type:'polygon',z:15,silent:true,shape:{points:[[216,336],[222,353],[210,353]]},style:{fill:axisCol}});
graphic.push({type:'polygon',z:15,silent:true,shape:{points:[[531,957],[516,951],[520,957],[516,963]]},style:{fill:axisCol}});

const chart=echarts.init(document.getElementById('c'),null,{renderer:'canvas'});
chart.setOption({animation:false,backgroundColor:'#fff',tooltip:{show:false},grid,xAxis,yAxis,series,legend,graphic});
</script></body></html>
